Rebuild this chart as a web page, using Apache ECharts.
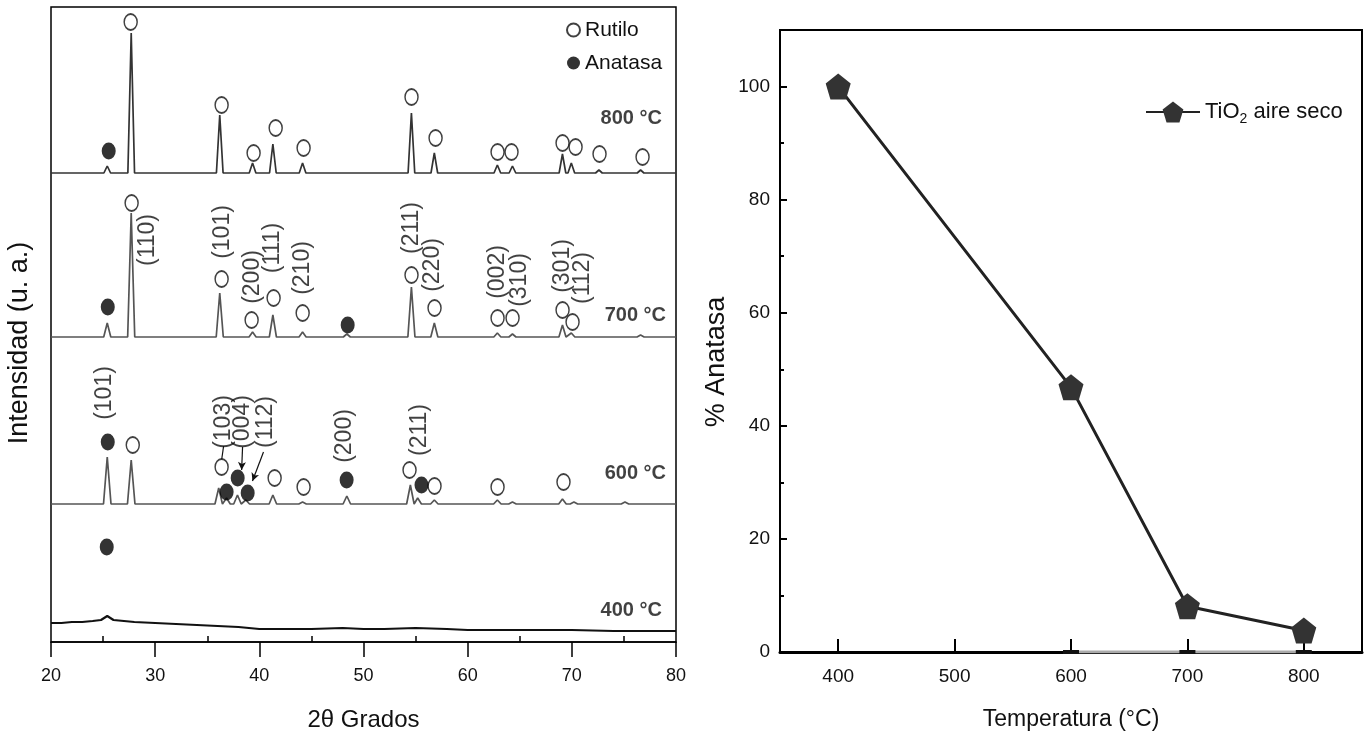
<!DOCTYPE html>
<html>
<head>
<meta charset="utf-8">
<script src="https://cdn.jsdelivr.net/npm/echarts@6/dist/echarts.min.js"></script>
<style>html,body{margin:0;padding:0;background:#fff}#c{width:1366px;height:740px}</style>
</head>
<body>
<div id="c"></div>
<script>
// ---------- Left panel: XRD patterns (2θ in degrees, intensity in arbitrary units) ----------
const peaks800 = [25.4, 27.7, 36.2, 39.35, 41.3, 44.15, 54.6, 56.8, 62.85, 64.3, 69.1, 69.95, 72.6, 76.6];
const heights800 = [7, 140, 58, 10, 29, 10, 60, 20, 8, 7, 19, 10, 3, 3];
const peaks700 = [25.4, 27.7, 36.2, 39.35, 41.3, 44.15, 48.4, 54.6, 56.8, 62.85, 64.3, 69.1, 69.95, 76.6];
const heights700 = [14, 124, 44, 5, 22, 5, 3, 50, 14, 4, 3, 12, 4, 2];
const peaks600 = [25.4, 27.7, 36.1, 36.85, 37.9, 38.7, 41.3, 44.15, 48.4, 54.5, 55.2, 56.8, 62.85, 64.3, 69.1, 70.2, 75.1];
const heights600 = [47, 44, 16, 6, 9, 4, 9, 2, 8, 19, 6, 4, 4, 2, 5, 2, 2];
const trace400X = [20, 21, 22, 23, 24, 24.8, 25.4, 26, 27, 28, 30, 32, 34, 36, 38, 39, 40, 42, 45, 48, 50, 52, 55, 58, 60, 63, 66, 70, 74, 77, 80];
const trace400Y = [19, 19, 20, 20, 21, 22, 26, 22, 21, 20, 19, 18, 17, 16, 15, 14, 13, 13, 13, 14, 13, 13, 14, 13, 12, 12, 12, 12, 11, 11, 11];
const traceOffsets = { t800: 469, t700: 305, t600: 138 };
const peakHalfWidth = { t800: 0.32, t700: 0.34, t600: 0.36 };

// phase markers [2θ, level]
const rutiloPts = [
  [27.65, 620], [36.38, 537], [39.45, 489], [41.57, 514], [44.25, 494], [54.61, 545], [56.92, 504], [62.87, 490], [64.21, 490], [69.11, 499], [70.36, 495], [72.66, 488], [76.79, 485],
  [27.74, 439], [36.38, 363], [39.26, 322], [41.37, 344], [44.16, 329], [54.61, 367], [56.82, 334], [62.87, 324], [64.31, 324], [69.11, 332], [70.07, 320],
  [27.85, 197], [36.38, 175], [41.47, 164], [44.25, 155], [54.42, 172], [56.82, 156], [62.87, 155], [69.2, 160]
];
const anatasaPts = [
  [25.54, 491],
  [25.45, 335], [48.48, 317],
  [25.45, 200], [36.86, 150], [37.92, 164], [38.88, 149], [48.38, 162], [55.57, 157],
  [25.35, 95]
];
const millerText = ['(110)', '(101)', '(200)', '(111)', '(210)', '(211)', '(220)', '(002)', '(310)', '(301)', '(112)',
                    '(101)', '(103)', '(004)', '(112)', '(200)', '(211)'];
const millerX = [29.3, 36.48, 39.36, 41.28, 44.16, 54.61, 56.63, 62.87, 64.98, 69.11, 71.03,
                 25.16, 36.57, 38.39, 40.6, 48.19, 55.39];
const millerY = [402, 410, 365, 394, 374, 414, 377, 370, 362, 376, 364,
                 249, 220, 220, 220, 206, 212];
const tempText = ['800 °C', '700 °C', '600 °C', '400 °C'];
const tempX = [75.7, 76.1, 76.1, 75.7];
const tempY = [524, 327, 169, 32];
const pointerFrom = [[36.57, 196], [38.39, 195], [40.4, 190]];
const pointerTo = [[36.38, 182], [38.3, 172], [39.34, 161]];
const xTicksLeft = [20, 30, 40, 50, 60, 70, 80];
const xMinorLeft = [25, 35, 45, 55, 65, 75];

// ---------- Right panel: % anatase vs temperature ----------
const temperatures = [400, 600, 700, 800];
const anatasePct = [100, 46.8, 8.1, 3.8];
const baseRowT = [600, 700, 800];
const baseRowV = [0, 0, 0];
const xTicksRight = [400, 500, 600, 700, 800];
const yTicksRight = [0, 20, 40, 60, 80, 100];
const yMinorRight = [10, 30, 50, 70, 90];

function buildTrace(pos, h, off, w) {
  const pts = [[20, off]];
  for (let i = 0; i < pos.length; i++) {
    pts.push([pos[i] - w, off], [pos[i], off + h[i]], [pos[i] + w, off]);
  }
  pts.push([80, off]);
  return pts;
}

const SANS = "'Liberation Sans', Arial, sans-serif";
const ellipse = 'path://M0,-1 A1,1 0 1,1 0,1 A1,1 0 1,1 0,-1 Z';
const pentagon = 'path://M0,-10 L9.5,-3.1 L5.9,8.1 L-5.9,8.1 L-9.5,-3.1 Z';

const chart = echarts.init(document.getElementById('c'), null, { renderer: 'canvas' });
const option = {
  animation: false,
  backgroundColor: '#fff',
  grid: [
    { left: 51, right: 690, top: 7, bottom: 98, show: true, borderColor: '#000', borderWidth: 1.5, backgroundColor: 'transparent' },
    { left: 780, right: 4, top: 30, bottom: 88, show: true, borderColor: '#000', borderWidth: 2, backgroundColor: 'transparent' }
  ],
  xAxis: [
    { type: 'value', gridIndex: 0, min: 20, max: 80, interval: 10,
      name: '2θ Grados', nameLocation: 'middle', nameGap: 66,
      nameTextStyle: { fontFamily: SANS, fontSize: 24, color: '#111' },
      axisLine: { lineStyle: { color: '#000', width: 1.5 } },
      axisTick: { inside: false, length: 15, lineStyle: { color: '#000', width: 1.5 }, customValues: xTicksLeft },
      axisLabel: { margin: 25, fontFamily: SANS, fontSize: 18, color: '#111', customValues: xTicksLeft },
      splitLine: { show: false } },
    { type: 'value', gridIndex: 0, min: 20, max: 80, position: 'bottom',
      axisLine: { show: false },
      axisTick: { inside: true, length: 6, lineStyle: { color: '#000', width: 1.5 }, customValues: xMinorLeft },
      axisLabel: { show: false }, splitLine: { show: false } },
    { type: 'value', gridIndex: 1, min: 350, max: 850,
      name: 'Temperatura (°C)', nameLocation: 'middle', nameGap: 56,
      nameTextStyle: { fontFamily: SANS, fontSize: 23, color: '#111' },
      axisLine: { lineStyle: { color: '#000', width: 2 } },
      axisTick: { inside: true, length: 13, lineStyle: { color: '#000', width: 2 }, customValues: xTicksRight },
      axisLabel: { margin: 15, fontFamily: SANS, fontSize: 19, color: '#111', customValues: xTicksRight },
      splitLine: { show: false } },
    { type: 'value', gridIndex: 1, min: 350, max: 850, position: 'top',
      axisLine: { lineStyle: { color: '#000', width: 3 } },
      axisTick: { show: false }, axisLabel: { show: false }, splitLine: { show: false } }
  ],
  yAxis: [
    { type: 'value', gridIndex: 0, min: 0, max: 635, show: false },
    { type: 'value', gridIndex: 1, min: 0, max: 110,
      axisLine: { lineStyle: { color: '#000', width: 2 } },
      axisTick: { inside: true, length: 7, lineStyle: { color: '#000', width: 2 }, customValues: yTicksRight },
      axisLabel: { margin: 10, fontFamily: SANS, fontSize: 19, color: '#111', customValues: yTicksRight },
      splitLine: { show: false } },
    { type: 'value', gridIndex: 1, min: 0, max: 110, position: 'left',
      axisLine: { show: false },
      axisTick: { inside: true, length: 4, lineStyle: { color: '#000', width: 2 }, customValues: yMinorRight },
      axisLabel: { show: false }, splitLine: { show: false } }
  ],
  legend: [
    { data: ['Rutilo', 'Anatasa'], orient: 'vertical', left: 561, top: 14, itemWidth: 13, itemHeight: 16, itemGap: 11,
      selectedMode: false, textStyle: { fontFamily: SANS, fontSize: 21, color: '#111', lineHeight: 22 } },
    { data: ['TiO2 aire seco'], left: 1140, top: 96, itemWidth: 54, itemHeight: 26, itemGap: 4, selectedMode: false,
      formatter: function () { return 'TiO{s|2} aire seco'; },
      textStyle: { fontFamily: SANS, fontSize: 22, color: '#111',
        rich: { s: { fontFamily: SANS, fontSize: 14, color: '#111', padding: [14, 0, 0, 0] } } } }
  ],
  graphic: [
    { type: 'text', x: 20, y: 343, rotation: Math.PI / 2,
      style: { text: 'Intensidad (u. a.)', font: "27px 'Liberation Sans', Arial, sans-serif", fill: '#111', textAlign: 'center', textVerticalAlign: 'middle' } },
    { type: 'text', x: 717, y: 362, rotation: Math.PI / 2,
      style: { text: '% Anatasa', font: "27px 'Liberation Sans', Arial, sans-serif", fill: '#111', textAlign: 'center', textVerticalAlign: 'middle' } }
  ],
  series: [
    { name: 'T400', type: 'line', xAxisIndex: 0, yAxisIndex: 0, showSymbol: false, silent: true,
      data: trace400X.map((x, i) => [x, trace400Y[i]]), lineStyle: { color: '#111', width: 2.2 } },
    { name: 'T600', type: 'line', xAxisIndex: 0, yAxisIndex: 0, showSymbol: false, silent: true,
      data: buildTrace(peaks600, heights600, traceOffsets.t600, peakHalfWidth.t600), lineStyle: { color: '#555', width: 1.7 } },
    { name: 'T700', type: 'line', xAxisIndex: 0, yAxisIndex: 0, showSymbol: false, silent: true,
      data: buildTrace(peaks700, heights700, traceOffsets.t700, peakHalfWidth.t700), lineStyle: { color: '#555', width: 1.7 } },
    { name: 'T800', type: 'line', xAxisIndex: 0, yAxisIndex: 0, showSymbol: false, silent: true,
      data: buildTrace(peaks800, heights800, traceOffsets.t800, peakHalfWidth.t800), lineStyle: { color: '#333', width: 1.7 } },
    { name: 'Miller', type: 'scatter', xAxisIndex: 0, yAxisIndex: 0, symbolSize: 0, silent: true,
      data: millerText.map((t, i) => ({ name: t, value: [millerX[i], millerY[i]] })),
      label: { show: true, position: 'inside', rotate: 90, formatter: p => p.name,
        fontFamily: SANS, fontSize: 23, color: '#111' },
      markLine: { silent: true, symbol: ['none', 'arrow'], symbolSize: [6, 8], label: { show: false },
        lineStyle: { color: '#111', width: 1.2, type: 'solid' },
        data: pointerFrom.map((f, i) => [{ coord: f, symbol: 'none' }, { coord: pointerTo[i], symbol: i === 0 ? 'none' : 'arrow' }]) } },
    { name: 'Temps', type: 'scatter', xAxisIndex: 0, yAxisIndex: 0, symbolSize: 0, silent: true,
      data: tempText.map((t, i) => ({ name: t, value: [tempX[i], tempY[i]] })),
      label: { show: true, position: 'inside', formatter: p => p.name,
        fontFamily: SANS, fontWeight: 'bold', fontSize: 20, color: '#111' } },
    { name: 'Rutilo', type: 'scatter', xAxisIndex: 0, yAxisIndex: 0, symbol: ellipse, symbolSize: [13, 16],
      data: rutiloPts, itemStyle: { color: '#fff', borderColor: '#111', borderWidth: 1.6 }, z: 5 },
    { name: 'Anatasa', type: 'scatter', xAxisIndex: 0, yAxisIndex: 0, symbol: ellipse, symbolSize: [14, 17],
      data: anatasaPts, itemStyle: { color: '#000' }, z: 5 },
    { name: 'base', type: 'line', xAxisIndex: 2, yAxisIndex: 1, symbol: 'rect', symbolSize: [16, 4], silent: true,
      data: baseRowT.map((t, i) => [t, baseRowV[i]]), itemStyle: { color: '#111' },
      lineStyle: { color: '#aaa', width: 3 }, z: 1 },
    { name: 'TiO2 aire seco', type: 'line', xAxisIndex: 2, yAxisIndex: 1, symbol: pentagon, symbolSize: [25, 26],
      data: temperatures.map((t, i) => [t, anatasePct[i]]),
      itemStyle: { color: '#333' }, lineStyle: { color: '#222', width: 3 }, z: 3 }
  ]
};
chart.setOption(option);
</script>
</body>
</html>
